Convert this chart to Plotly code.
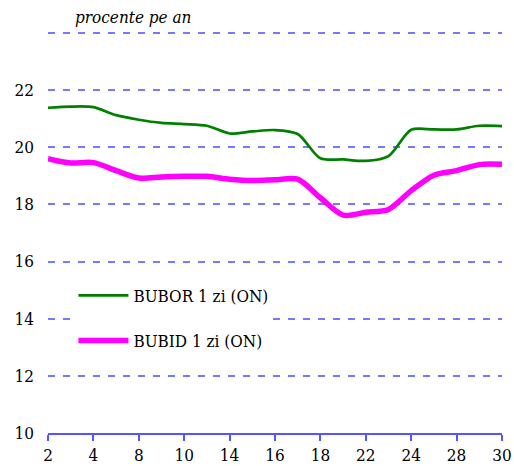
import plotly.graph_objects as go

days = ["2", "3", "4", "7", "8", "9", "10", "11", "14", "15", "16", "17", "18",
        "21", "22", "23", "24", "25", "28", "29", "30"]
bubor = [21.38, 21.42, 21.40, 21.12, 20.96, 20.85, 20.81, 20.75, 20.48, 20.55, 20.60,
         20.46, 19.61, 19.57, 19.52, 19.69, 20.61, 20.62, 20.62, 20.75, 20.74]
bubid = [19.60, 19.45, 19.46, 19.18, 18.92, 18.96, 18.98, 18.98, 18.88, 18.83, 18.86,
         18.88, 18.23, 17.62, 17.72, 17.82, 18.48, 19.02, 19.18, 19.39, 19.40]
x_ticks = ["2", "4", "8", "10", "14", "16", "18", "22", "24", "28", "30"]
y_ticks = [10, 12, 14, 16, 18, 20, 22, 24]
y_labels = ["10", "12", "14", "16", "18", "20", "22", ""]

FONT = "DejaVu Serif Condensed, DejaVu Serif"
FS = 17

fig = go.Figure()
fig.add_trace(go.Scatter(x=days, y=bubor, mode="lines", name="BUBOR 1 zi (ON)",
                         line=dict(color="#008000", width=2.7, shape="spline", smoothing=0.8),
                         legendgroup="a"))
fig.add_trace(go.Scatter(x=days, y=bubid, mode="lines", name="BUBID 1 zi (ON)",
                         line=dict(color="#ff00ff", width=5.5, shape="spline", smoothing=0.8),
                         legendgroup="b"))

fig.update_layout(
    template="none",
    width=514, height=466,
    margin=dict(l=48, r=12, t=30, b=33, pad=0),
    paper_bgcolor="white", plot_bgcolor="white",
    font=dict(family=FONT, size=FS, color="black"),
    showlegend=True,
    legend=dict(x=0.056, y=0.385, xanchor="left", yanchor="top",
                bgcolor="white", borderwidth=0,
                font=dict(family=FONT, size=FS, color="black"),
                traceorder="grouped", tracegroupgap=20, itemwidth=50),
    annotations=[dict(text="<i>procente pe an</i>", xref="paper", yref="paper",
                      x=(73 - 48) / 454, y=1.0, xanchor="left", yanchor="bottom",
                      yshift=1, showarrow=False,
                      font=dict(family=FONT, size=FS, color="black"))],
)
fig.update_xaxes(type="category", categoryorder="array", categoryarray=days,
                 range=[0, 20], tickmode="array", tickvals=x_ticks, ticktext=x_ticks,
                 showgrid=False, showline=True, linecolor="#5555ff", linewidth=1.5,
                 ticks="outside", tickcolor="#5555ff", ticklen=6, tickwidth=1.5,
                 zeroline=False, automargin=False,
                 tickfont=dict(family=FONT, size=FS, color="black"))
fig.update_yaxes(range=[10, 24.1], tickmode="array", tickvals=y_ticks, ticktext=y_labels,
                 showgrid=True, gridcolor="#7777ff", gridwidth=1.5, griddash="7px,8px",
                 showline=False, zeroline=False, ticks="", ticklabelstandoff=13,
                 automargin=False,
                 tickfont=dict(family=FONT, size=FS, color="black"))

fig.write_html("out.html", config={"displayModeBar": False},
               post_script="document.body.style.margin='0';document.body.style.overflow='hidden';")
